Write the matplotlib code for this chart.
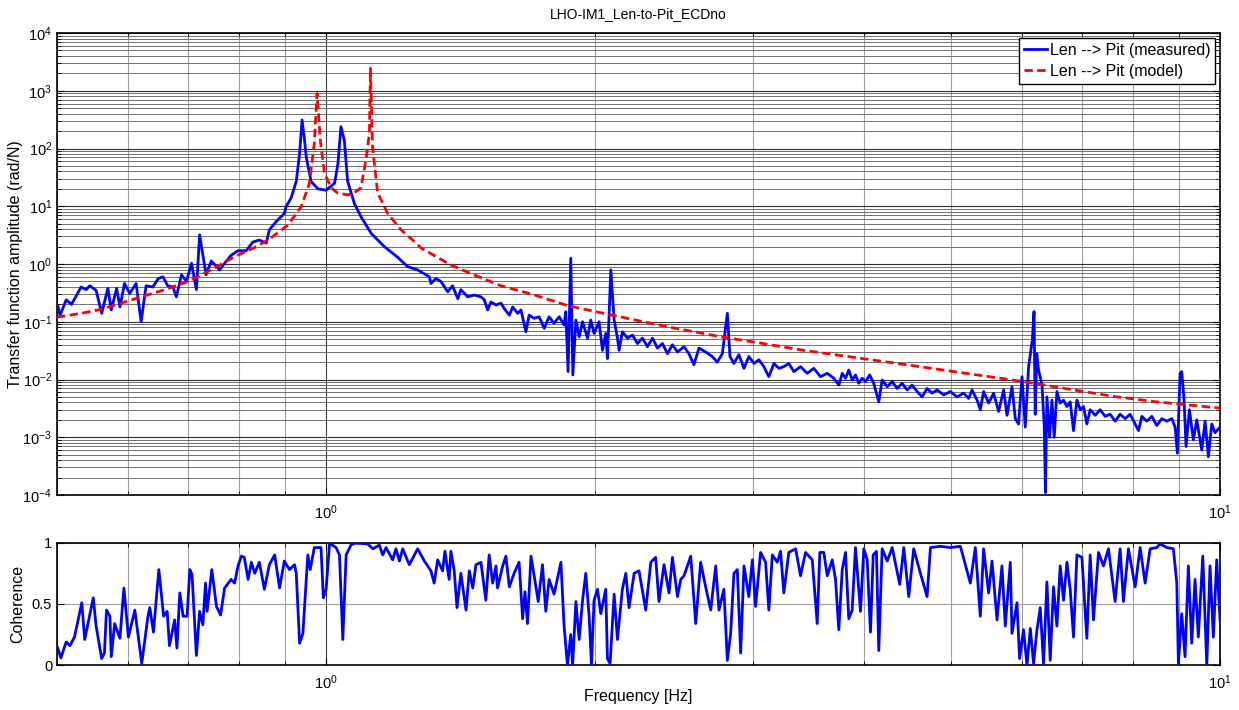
import matplotlib
matplotlib.use('Agg')
import matplotlib.pyplot as plt
from matplotlib.ticker import LogLocator, NullFormatter, FixedLocator

plt.rcParams['font.family'] = ['Liberation Sans', 'DejaVu Sans']
plt.rcParams['mathtext.default'] = 'regular'
plt.rcParams['axes.unicode_minus'] = False
plt.rcParams['font.size'] = 11.5

# measured transfer function (Hz, rad/N)
tf_freq = [0.501, 0.504, 0.512, 0.519, 0.532, 0.539, 0.544, 0.553, 0.561, 0.570,
           0.575, 0.583, 0.588, 0.595, 0.603, 0.613, 0.621, 0.629, 0.640, 0.649,
           0.657, 0.665, 0.674, 0.680, 0.689, 0.698, 0.707, 0.716, 0.722, 0.734,
           0.744, 0.760, 0.770, 0.783, 0.797, 0.814, 0.828, 0.842, 0.857, 0.864,
           0.879, 0.898, 0.902, 0.914, 0.926, 0.934, 0.940, 0.946, 0.950, 0.962,
           0.979, 1.000, 1.022, 1.031, 1.039, 1.048, 1.057, 1.076, 1.094, 1.123,
           1.162, 1.203, 1.234, 1.266, 1.305, 1.310, 1.327, 1.344, 1.368, 1.385,
           1.404, 1.415, 1.440, 1.465, 1.490, 1.503, 1.516, 1.529, 1.549, 1.569,
           1.582, 1.603, 1.617, 1.638, 1.652, 1.673, 1.687, 1.709, 1.731, 1.754,
           1.776, 1.799, 1.823, 1.846, 1.854, 1.865, 1.878, 1.888, 1.903, 1.919,
           1.936, 1.961, 1.977, 1.994, 2.020, 2.038, 2.055, 2.064, 2.082, 2.100,
           2.118, 2.127, 2.145, 2.173, 2.201, 2.230, 2.259, 2.288, 2.318, 2.348,
           2.378, 2.409, 2.440, 2.472, 2.514, 2.546, 2.579, 2.613, 2.658, 2.704,
           2.739, 2.775, 2.811, 2.830, 2.859, 2.896, 2.934, 2.971, 3.010, 3.049,
           3.088, 3.128, 3.169, 3.210, 3.251, 3.293, 3.336, 3.394, 3.453, 3.512,
           3.573, 3.636, 3.698, 3.746, 3.779, 3.811, 3.843, 3.877, 3.910, 3.943,
           3.978, 4.012, 4.056, 4.098, 4.152, 4.188, 4.243, 4.298, 4.353, 4.409,
           4.466, 4.524, 4.583, 4.642, 4.702, 4.763, 4.825, 4.907, 4.993, 5.079,
           5.167, 5.234, 5.279, 5.348, 5.393, 5.439, 5.510, 5.581, 5.653, 5.727,
           5.777, 5.851, 5.902, 5.952, 6.004, 6.055, 6.107, 6.166, 6.193, 6.212,
           6.237, 6.266, 6.321, 6.359, 6.378, 6.402, 6.446, 6.486, 6.524, 6.569,
           6.625, 6.682, 6.741, 6.798, 6.856, 6.916, 6.976, 7.035, 7.096, 7.157,
           7.250, 7.343, 7.439, 7.535, 7.632, 7.731, 7.832, 7.932, 8.036, 8.105,
           8.176, 8.282, 8.389, 8.497, 8.608, 8.718, 8.832, 8.907, 8.960, 9.022,
           9.061, 9.115, 9.162, 9.241, 9.336, 9.418, 9.540, 9.622, 9.704, 9.789,
           9.872, 10.0]
tf_meas = [0.19, 0.13, 0.24, 0.20, 0.40, 0.36, 0.42, 0.35, 0.14, 0.38,
           0.16, 0.38, 0.18, 0.46, 0.31, 0.46, 0.10, 0.42, 0.40, 0.56,
           0.60, 0.42, 0.40, 0.27, 0.65, 0.50, 1.03, 0.36, 3.2, 0.65,
           1.13, 0.79, 1.03, 1.42, 1.7, 1.7, 2.4, 2.6, 2.3, 3.9,
           5.4, 7.5, 9.8, 14, 27, 82, 312, 140, 72, 27,
           20, 19, 25, 55, 239, 140, 27, 11, 6.6, 3.4,
           2.0, 1.3, 0.9, 0.79, 0.60, 0.46, 0.56, 0.50, 0.33, 0.42,
           0.25, 0.36, 0.27, 0.29, 0.27, 0.24, 0.16, 0.22, 0.195, 0.21,
           0.17, 0.13, 0.18, 0.14, 0.16, 0.067, 0.13, 0.115, 0.122, 0.077,
           0.122, 0.094, 0.122, 0.088, 0.149, 0.0137, 1.26, 0.012, 0.107, 0.055,
           0.10, 0.052, 0.107, 0.063, 0.10, 0.032, 0.063, 0.023, 0.79, 0.107,
           0.052, 0.032, 0.067, 0.052, 0.059, 0.042, 0.052, 0.037, 0.052, 0.035,
           0.042, 0.028, 0.040, 0.030, 0.037, 0.028, 0.018, 0.035, 0.030, 0.025,
           0.020, 0.028, 0.14, 0.025, 0.019, 0.027, 0.0156, 0.025, 0.019, 0.022,
           0.0167, 0.0112, 0.019, 0.0156, 0.0167, 0.019, 0.0137, 0.0167, 0.0128, 0.0156,
           0.0112, 0.0128, 0.0105, 0.0080, 0.0128, 0.0105, 0.0146, 0.0098, 0.0120, 0.0086,
           0.0105, 0.0092, 0.0120, 0.0086, 0.0041, 0.0098, 0.0075, 0.0092, 0.0070, 0.0086,
           0.0066, 0.0080, 0.0062, 0.0050, 0.0070, 0.0058, 0.0066, 0.0054, 0.0062, 0.0050,
           0.0058, 0.0047, 0.0066, 0.0044, 0.0030, 0.0062, 0.0039, 0.0058, 0.0028, 0.0066,
           0.0024, 0.0075, 0.0021, 0.0017, 0.0112, 0.0015, 0.0167, 0.048, 0.15, 0.0025,
           0.028, 0.0146, 0.0080, 0.0015, 0.00011, 0.0050, 0.0010, 0.0044, 0.0010, 0.0062,
           0.0039, 0.0044, 0.0034, 0.0041, 0.0013, 0.0044, 0.0030, 0.0034, 0.0017, 0.0030,
           0.0024, 0.0030, 0.0023, 0.0025, 0.0019, 0.0025, 0.0021, 0.0025, 0.0017, 0.0013,
           0.0023, 0.0019, 0.0023, 0.0016, 0.0021, 0.0019, 0.0021, 0.0015, 0.00053, 0.0128,
           0.0137, 0.0044, 0.00069, 0.0030, 0.0009, 0.0020, 0.0006, 0.0019, 0.00046, 0.0017,
           0.0012, 0.0015]

# model transfer function
model_freq = [0.50, 0.532, 0.561, 0.621, 0.66, 0.701, 0.75, 0.790, 0.83, 0.861,
              0.906, 0.938, 0.958, 0.970, 0.977, 0.986, 0.996, 1.013, 1.03, 1.057,
              1.075, 1.094, 1.108, 1.118, 1.121, 1.127, 1.142, 1.172, 1.213, 1.25,
              1.277, 1.379, 1.46, 1.569, 1.7, 1.863, 2.090, 2.409, 2.763, 3.0,
              3.423, 4.462, 5.998, 7.599, 8.5, 10.0]
model_amp = [0.12, 0.14, 0.165, 0.27, 0.36, 0.50, 0.85, 1.34, 1.9, 2.6,
             4.7, 9.8, 25, 122, 900, 122, 37, 21, 17, 15.7,
             17, 21, 63, 183, 2450, 107, 17, 7.5, 3.9, 2.6,
             1.9, 0.96, 0.66, 0.42, 0.30, 0.19, 0.13, 0.082, 0.055, 0.045,
             0.032, 0.018, 0.0093, 0.0051, 0.0041, 0.0032]

# coherence
coh_freq = [0.501, 0.505, 0.512, 0.517, 0.523, 0.533, 0.537, 0.549, 0.553, 0.561,
            0.565, 0.568, 0.573, 0.575, 0.580, 0.588, 0.594, 0.601, 0.611, 0.622,
            0.632, 0.635, 0.641, 0.650, 0.658, 0.664, 0.668, 0.677, 0.681, 0.686,
            0.692, 0.699, 0.704, 0.708, 0.716, 0.722, 0.728, 0.733, 0.736, 0.745,
            0.754, 0.762, 0.770, 0.783, 0.790, 0.797, 0.804, 0.810, 0.818, 0.825,
            0.832, 0.842, 0.853, 0.864, 0.876, 0.887, 0.898, 0.910, 0.922, 0.926,
            0.934, 0.942, 0.954, 0.960, 0.970, 0.987, 0.993, 1.000, 1.009, 1.026,
            1.035, 1.044, 1.053, 1.066, 1.076, 1.085, 1.113, 1.128, 1.147, 1.157,
            1.167, 1.187, 1.197, 1.208, 1.218, 1.239, 1.266, 1.288, 1.310, 1.321,
            1.333, 1.350, 1.358, 1.373, 1.379, 1.391, 1.401, 1.415, 1.434, 1.446,
            1.459, 1.471, 1.490, 1.509, 1.522, 1.536, 1.549, 1.555, 1.576, 1.589,
            1.603, 1.623, 1.644, 1.659, 1.669, 1.680, 1.695, 1.709, 1.727, 1.746,
            1.761, 1.776, 1.799, 1.815, 1.831, 1.846, 1.862, 1.878, 1.887, 1.903,
            1.919, 1.936, 1.952, 1.969, 1.981, 1.994, 2.012, 2.029, 2.055, 2.064,
            2.078, 2.100, 2.118, 2.145, 2.164, 2.182, 2.211, 2.239, 2.278, 2.308,
            2.337, 2.357, 2.388, 2.419, 2.440, 2.472, 2.493, 2.514, 2.558, 2.591,
            2.624, 2.658, 2.693, 2.728, 2.751, 2.786, 2.811, 2.835, 2.859, 2.884,
            2.909, 2.934, 2.971, 2.998, 3.023, 3.062, 3.102, 3.128, 3.156, 3.197,
            3.224, 3.251, 3.293, 3.351, 3.394, 3.438, 3.498, 3.543, 3.567, 3.604,
            3.636, 3.683, 3.714, 3.746, 3.779, 3.811, 3.843, 3.877, 3.910, 3.961,
            3.995, 4.030, 4.064, 4.093, 4.127, 4.152, 4.188, 4.243, 4.298, 4.382,
            4.428, 4.485, 4.543, 4.622, 4.702, 4.743, 4.866, 4.993, 5.123, 5.256,
            5.324, 5.393, 5.439, 5.510, 5.558, 5.630, 5.702, 5.751, 5.826, 5.851,
            5.927, 5.967, 6.028, 6.082, 6.134, 6.186, 6.240, 6.293, 6.347, 6.402,
            6.457, 6.512, 6.569, 6.625, 6.682, 6.741, 6.798, 6.856, 6.916, 7.006,
            7.096, 7.157, 7.218, 7.312, 7.406, 7.502, 7.632, 7.731, 7.797, 7.898,
            8.036, 8.140, 8.245, 8.352, 8.497, 8.569, 8.718, 8.867, 8.946, 8.983,
            9.061, 9.138, 9.216, 9.297, 9.376, 9.456, 9.565, 9.664, 9.745, 9.829,
            9.915, 10.0]
coherence = [0.14, 0.06, 0.19, 0.16, 0.23, 0.51, 0.21, 0.55, 0.32, 0.055,
             0.10, 0.45, 0.40, 0.07, 0.34, 0.22, 0.63, 0.23, 0.45, 0.014,
             0.40, 0.47, 0.27, 0.78, 0.40, 0.44, 0.16, 0.37, 0.14, 0.59,
             0.40, 0.40, 0.78, 0.74, 0.08, 0.44, 0.33, 0.67, 0.44, 0.78,
             0.48, 0.41, 0.63, 0.70, 0.67, 0.81, 0.89, 0.88, 0.70, 0.84,
             0.75, 0.84, 0.62, 0.82, 0.90, 0.63, 0.85, 0.78, 0.82, 0.75,
             0.18, 0.26, 0.90, 0.78, 0.96, 0.96, 0.55, 0.62, 0.995, 0.96,
             0.90, 0.21, 0.90, 0.98, 0.995, 0.995, 0.99, 0.95, 0.98, 0.90,
             0.96, 0.86, 0.95, 0.85, 0.95, 0.82, 0.95, 0.85, 0.77, 0.67,
             0.86, 0.77, 0.93, 0.70, 0.93, 0.77, 0.47, 0.75, 0.45, 0.77,
             0.63, 0.82, 0.84, 0.53, 0.90, 0.67, 0.81, 0.63, 0.81, 0.89,
             0.64, 0.75, 0.84, 0.38, 0.60, 0.34, 0.89, 0.73, 0.52, 0.82,
             0.44, 0.70, 0.58, 0.71, 0.84, 0.32, 0.0, 0.25, 0.0, 0.52,
             0.21, 0.53, 0.75, 0.40, 0.0, 0.53, 0.62, 0.42, 0.62, 0.055,
             0.014, 0.58, 0.21, 0.62, 0.75, 0.47, 0.75, 0.77, 0.45, 0.84,
             0.88, 0.52, 0.82, 0.59, 0.88, 0.56, 0.70, 0.73, 0.89, 0.34,
             0.84, 0.64, 0.45, 0.81, 0.45, 0.62, 0.04, 0.26, 0.75, 0.78,
             0.10, 0.81, 0.56, 0.86, 0.48, 0.92, 0.84, 0.45, 0.90, 0.84,
             0.93, 0.59, 0.92, 0.95, 0.73, 0.92, 0.86, 0.34, 0.92, 0.92,
             0.73, 0.86, 0.70, 0.29, 0.78, 0.92, 0.38, 0.45, 0.96, 0.44,
             0.95, 0.86, 0.27, 0.90, 0.93, 0.12, 0.95, 0.85, 0.96, 0.66,
             0.96, 0.56, 0.95, 0.75, 0.56, 0.96, 0.97, 0.96, 0.97, 0.67,
             0.96, 0.40, 0.95, 0.59, 0.85, 0.37, 0.81, 0.32, 0.84, 0.26,
             0.51, 0.055, 0.29, 0.0, 0.30, 0.014, 0.29, 0.47, 0.014, 0.68,
             0.04, 0.64, 0.32, 0.81, 0.53, 0.84, 0.62, 0.23, 0.90, 0.88,
             0.22, 0.90, 0.37, 0.92, 0.81, 0.95, 0.52, 0.95, 0.52, 0.95,
             0.64, 0.96, 0.67, 0.95, 0.96, 0.99, 0.96, 0.95, 0.67, 0.014,
             0.42, 0.07, 0.81, 0.18, 0.70, 0.23, 0.89, 0.0, 0.81, 0.23,
             0.86, 0.37]

fig = plt.figure(figsize=(12.39, 7.10), dpi=100)
ax1 = fig.add_axes([0.046, 0.3028, 0.9387, 0.6507])
ax2 = fig.add_axes([0.046, 0.0630, 0.9387, 0.1727])

ax1.loglog(tf_freq, tf_meas, color='#0000ff', lw=2.0, label='Len --> Pit (measured)', zorder=3)
ax1.loglog(model_freq, model_amp, color='#ff0000', lw=2.0, linestyle=(0, (3, 1.6)),
           label='Len --> Pit (model)', zorder=4)
ax1.set_xlim(0.5, 10)
ax1.set_ylim(1e-4, 1e4)
ax1.yaxis.set_major_locator(FixedLocator([1e-4, 1e-3, 1e-2, 1e-1, 1, 10, 100, 1e3, 1e4]))
ax1.yaxis.set_minor_locator(LogLocator(base=10, subs=range(2, 10), numticks=100))
ax1.yaxis.set_minor_formatter(NullFormatter())
ax1.set_ylabel('Transfer function amplitude (rad/N)')
ax1.yaxis.set_label_coords(-0.029, 0.5)
ax1.set_title('LHO-IM1_Len-to-Pit_ECDno', fontsize=10, pad=11)

ax2.semilogx(coh_freq, coherence, color='#0000ff', lw=2.0, zorder=3)
ax2.set_xlim(0.5, 10)
ax2.set_ylim(0, 1)
ax2.set_yticks([0, 0.5, 1])
ax2.set_yticklabels(['0', '0.5', '1'])
ax2.set_ylabel('Coherence')
ax2.yaxis.set_label_coords(-0.0275, 0.5)
ax2.set_xlabel('Frequency [Hz]')
ax2.xaxis.set_label_coords(0.5, -0.19)

for ax in (ax1, ax2):
    ax.xaxis.set_major_locator(FixedLocator([1, 10]))
    ax.xaxis.set_minor_locator(FixedLocator([0.5, 0.6, 0.7, 0.8, 0.9, 2, 3, 4, 5, 6, 7, 8, 9]))
    ax.xaxis.set_minor_formatter(NullFormatter())
    ax.tick_params(which='both', direction='in', top=True, right=True, labelsize=10.5)
    ax.tick_params(which='major', length=5)
    ax.tick_params(which='minor', length=3)
    ax.tick_params(axis='x', pad=6)
    ax.grid(True, which='major', axis='x', color='#404040', lw=0.8)
    ax.grid(True, which='minor', axis='x', color='#a0a0a0', lw=0.8)
    for s in ax.spines.values():
        s.set_linewidth(1.2)

ax1.grid(True, which='major', axis='y', color='#303030', lw=0.8)
ax1.grid(True, which='minor', axis='y', color='#707070', lw=0.7)
ax2.grid(True, which='major', axis='y', color='#a0a0a0', lw=0.8)

leg = ax1.legend(loc='upper right', fancybox=False, framealpha=1, edgecolor='black',
                 handlelength=1.4, borderpad=0.3, labelspacing=0.4, borderaxespad=0.3,
                 handletextpad=0.2, fontsize=11.5)
leg.get_frame().set_linewidth(1.0)

fig.savefig('out.png', dpi=100)
